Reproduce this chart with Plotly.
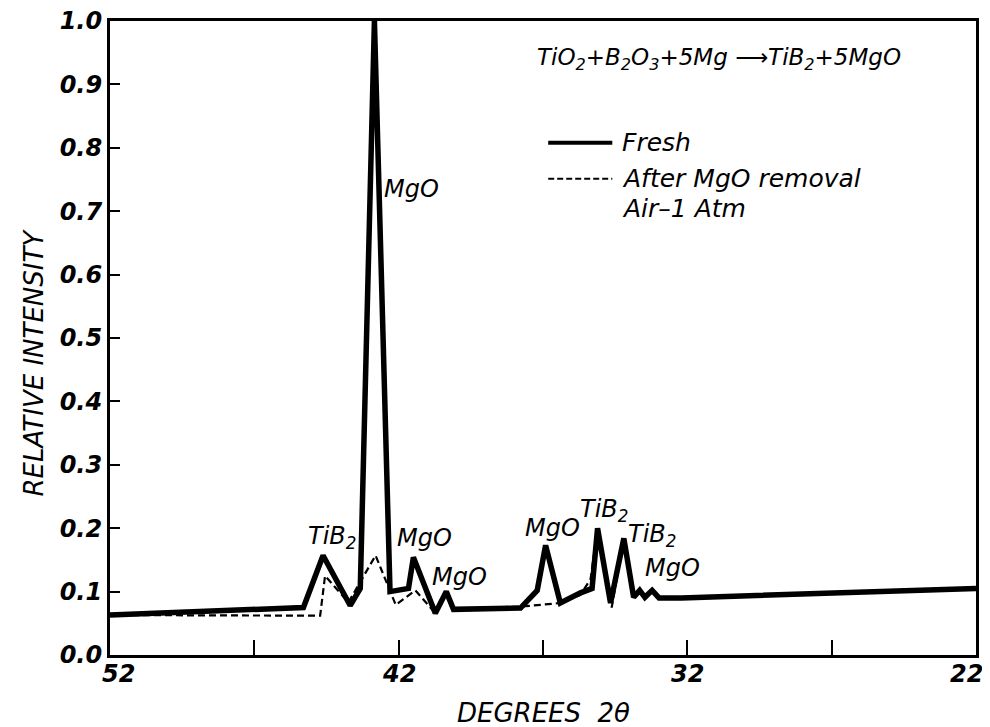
import plotly.graph_objects as go

# ---- data ----
fresh_x = [52, 45.3, 44.62, 43.68, 43.33, 42.84, 42.3, 41.66, 41.49, 40.73, 40.35, 40.1,
           37.78, 37.2, 36.91, 36.4, 35.7, 35.3, 35.11, 34.66, 34.2, 33.86, 33.65, 33.47,
           33.22, 32.98, 32.2, 22]
fresh_y = [0.063, 0.075, 0.157, 0.078, 0.105, 1.0, 0.1, 0.105, 0.154, 0.066, 0.1, 0.072,
           0.074, 0.102, 0.173, 0.082, 0.098, 0.105, 0.2, 0.082, 0.184, 0.091, 0.102, 0.091,
           0.102, 0.09, 0.09, 0.105]

after_x = [52, 44.72, 44.55, 43.74, 42.8, 42.1, 41.42, 40.73, 40.35, 40.1, 37.6, 36.4,
           35.7, 35.35, 35.11, 34.62, 34.2, 33.86, 33.65, 33.47, 33.22, 32.98, 32.2, 22]
after_y = [0.063, 0.062, 0.125, 0.083, 0.157, 0.079, 0.102, 0.066, 0.1, 0.072, 0.077, 0.082,
           0.095, 0.12, 0.2, 0.075, 0.184, 0.091, 0.102, 0.091, 0.102, 0.09, 0.09, 0.105]

peak_labels = ["TiB<sub>2</sub>", "MgO", "MgO", "MgO", "MgO", "TiB<sub>2</sub>", "TiB<sub>2</sub>", "MgO"]
peak_label_x = [44.31, 41.55, 41.09, 39.88, 36.66, 34.89, 33.23, 32.53]
peak_label_y = [0.186, 0.735, 0.184, 0.123, 0.200, 0.228, 0.189, 0.137]

x_tickvals = [52, 47, 42, 37, 32, 27, 22]
x_labelvals = [52, 42, 32, 22]
x_labeltext = ["52", "42", "32", "22"]
y_tickvals = [0.0, 0.1, 0.2, 0.3, 0.4, 0.5, 0.6, 0.7, 0.8, 0.9, 1.0]
y_ticktext = ["0.0", "0.1", "0.2", "0.3", "0.4", "0.5", "0.6", "0.7", "0.8", "0.9", "1.0"]

series_names = ["Fresh", "After MgO removal"]
reaction = "TiO<sub>2</sub>+B<sub>2</sub>O<sub>3</sub>+5Mg \u27f6TiB<sub>2</sub>+5MgO"

FONT = "DejaVu Sans"

fig = go.Figure()
fig.add_trace(go.Scatter(x=after_x, y=after_y, mode="lines", name=series_names[1],
                         line=dict(color="black", width=2.2, dash="7px,4px")))
fig.add_trace(go.Scatter(x=fresh_x, y=fresh_y, mode="lines", name=series_names[0],
                         line=dict(color="black", width=5.5)))


def tfont(size):
    return dict(family=FONT, size=size, color="black", style="italic")


tickfont = dict(family=FONT, size=24, color="black", weight="bold", style="italic")

ann = []
for t, x, y in zip(peak_labels, peak_label_x, peak_label_y):
    ann.append(dict(x=x, y=y, xref="x", yref="y", text=t, showarrow=False,
                    xanchor="center", yanchor="middle", font=tfont(24)))

# x tick labels (end labels nudged inward as in the reference)
label_shift = {52: 8, 22: -10}
for v, t in zip(x_labelvals, x_labeltext):
    ann.append(dict(x=v, y=-0.03, xref="x", yref="paper", text=t, showarrow=False,
                    xanchor="center", yanchor="middle", xshift=label_shift.get(v, 0),
                    font=tickfont))

# reaction equation
ann.append(dict(x=0.703, y=0.94, xref="paper", yref="paper", text=reaction, showarrow=False,
                xanchor="center", yanchor="middle", font=tfont(23)))
# legend texts
for txt, yy in [(series_names[0], 0.808), (series_names[1], 0.751), ("Air\u20131 Atm", 0.704)]:
    ann.append(dict(x=0.589, y=yy, xref="paper", yref="paper", text=txt, xanchor="left",
                    yanchor="middle", showarrow=False, font=tfont(25)))
# axis titles
ann.append(dict(x=-0.088, y=0.461, xref="paper", yref="paper", text="RELATIVE INTENSITY",
                textangle=-90, showarrow=False, xanchor="center", yanchor="middle",
                font=tfont(26)))
ann.append(dict(x=0.5, y=-0.092, xref="paper", yref="paper", text="DEGREES  2\u03b8",
                showarrow=False, xanchor="center", yanchor="middle", font=tfont(26)))

shapes = [
    dict(type="line", xref="paper", yref="paper", x0=0.506, x1=0.580, y0=0.808, y1=0.808,
         line=dict(color="black", width=4)),
    dict(type="line", xref="paper", yref="paper", x0=0.506, x1=0.580, y0=0.751, y1=0.751,
         line=dict(color="black", width=2, dash="6px,3px")),
]

fig.update_layout(
    width=990, height=727,
    margin=dict(l=102, r=22, t=13, b=80, autoexpand=False),
    paper_bgcolor="white", plot_bgcolor="white",
    showlegend=False,
    annotations=ann, shapes=shapes,
    xaxis=dict(range=[52, 22], tickmode="array", tickvals=x_tickvals, showticklabels=False,
               ticks="inside", ticklen=15, tickwidth=2, tickcolor="black",
               showline=True, linewidth=3, linecolor="black", mirror=True, automargin=False,
               showgrid=False, zeroline=False),
    yaxis=dict(range=[0, 1.0], tickmode="array", tickvals=y_tickvals, ticktext=y_ticktext,
               ticks="inside", ticklen=10, tickwidth=2, tickcolor="black",
               showline=True, linewidth=3, linecolor="black", mirror=True, automargin=False,
               showgrid=False, zeroline=False, tickfont=tickfont, ticklabeloverflow="allow"),
)

fig.write_html("out.html")
